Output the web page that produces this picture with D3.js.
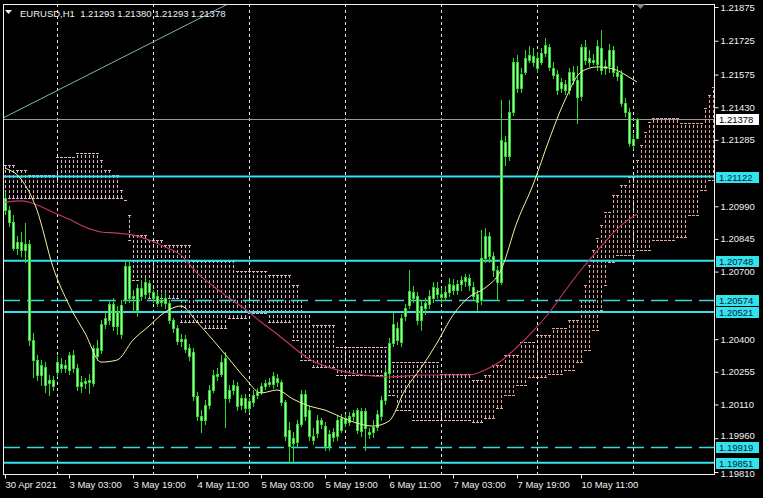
<!DOCTYPE html>
<html><head><meta charset="utf-8">
<script src="https://cdn.jsdelivr.net/npm/d3@7"></script>
<style>
html,body{margin:0;padding:0;background:#000;}
svg{display:block;}
</style></head><body>
<svg id="c" width="763" height="498"></svg>
<script>
// ---------------- DATA ----------------
const symbolTitle = "EURUSD,H1";
const headerOHLC = ["1.21293", "1.21380", "1.21293", "1.21378"];
const timeLabels = ["30 Apr 2021", "3 May 03:00", "3 May 19:00", "4 May 11:00", "5 May 03:00", "5 May 19:00", "6 May 11:00", "7 May 03:00", "7 May 19:00", "10 May 11:00"];
const timeLabelIdx = [0, 16, 32, 48, 64, 80, 96, 112, 128, 144];
const daySeparatorIdx = [13, 37, 61, 85, 109, 133, 157];
const priceTicks = [1.21875, 1.21725, 1.21575, 1.21430, 1.21285, 1.20990, 1.20845, 1.20700, 1.20400, 1.20255, 1.20110, 1.19960, 1.19810];

const openP = [1.21027,1.20973,1.20920,1.20805,1.20831,1.20796,1.20822,1.20396,1.20307,1.20241,
1.20276,1.20205,1.20218,1.20254,1.20289,1.20272,1.20263,1.20329,1.20272,1.20191,
1.20205,1.20209,1.20205,1.20361,1.20352,1.20467,1.20485,1.20556,1.20458,1.20422,
1.20574,1.20724,1.20583,1.20529,1.20627,1.20601,1.20649,1.20609,1.20592,1.20565,
1.20583,1.20561,1.20485,1.20449,1.20392,1.20400,1.20361,1.20343,1.20147,1.20059,
1.20041,1.20107,1.20174,1.20236,1.20245,1.20316,1.20139,1.20174,1.20191,1.20107,
1.20139,1.20094,1.20121,1.20152,1.20165,1.20191,1.20200,1.20200,1.20227,1.20209,
1.20121,1.19996,1.19939,1.19943,1.20023,1.20156,1.20085,1.19970,1.19983,1.20023,
1.20014,1.19926,1.19987,1.19970,1.19996,1.20050,1.20032,1.20059,1.19996,1.20081,
1.20005,1.19987,1.19987,1.20009,1.20059,1.20130,1.20250,1.20383,1.20449,1.20387,
1.20503,1.20552,1.20609,1.20592,1.20485,1.20538,1.20556,1.20583,1.20627,1.20601,
1.20587,1.20609,1.20640,1.20618,1.20645,1.20658,1.20671,1.20631,1.20601,1.20574,
1.20760,1.20857,1.20769,1.20707,1.20654,1.21275,1.21213,1.21409,1.21631,1.21515,
1.21587,1.21640,1.21658,1.21649,1.21631,1.21671,1.21697,1.21604,1.21578,1.21515,
1.21533,1.21506,1.21587,1.21551,1.21480,1.21697,1.21649,1.21631,1.21622,1.21693,
1.21604,1.21613,1.21684,1.21587,1.21578,1.21449,1.21409,1.21262,1.21293];
const highP = [1.21053,1.20991,1.20951,1.20857,1.20875,1.20916,1.20840,1.20427,1.20329,1.20307,
1.20298,1.20241,1.20236,1.20325,1.20316,1.20307,1.20343,1.20352,1.20289,1.20236,
1.20227,1.20245,1.20374,1.20396,1.20485,1.20520,1.20574,1.20583,1.20547,1.20574,
1.20751,1.20742,1.20618,1.20645,1.20662,1.20671,1.20662,1.20618,1.20609,1.20601,
1.20609,1.20574,1.20494,1.20462,1.20422,1.20418,1.20378,1.20361,1.20165,1.20085,
1.20130,1.20196,1.20263,1.20272,1.20329,1.20343,1.20196,1.20218,1.20209,1.20152,
1.20156,1.20139,1.20174,1.20183,1.20205,1.20218,1.20227,1.20254,1.20245,1.20218,
1.20130,1.20032,1.19987,1.20041,1.20174,1.20174,1.20103,1.20005,1.20063,1.20050,
1.20032,1.19996,1.20005,1.20059,1.20068,1.20068,1.20076,1.20085,1.20094,1.20094,
1.20094,1.20005,1.20041,1.20085,1.20147,1.20272,1.20405,1.20516,1.20476,1.20512,
1.20556,1.20707,1.20636,1.20609,1.20574,1.20583,1.20618,1.20654,1.20654,1.20627,
1.20636,1.20671,1.20667,1.20662,1.20680,1.20689,1.20689,1.20654,1.20618,1.20884,
1.20893,1.20875,1.20787,1.20724,1.21462,1.21302,1.21462,1.21649,1.21662,1.21604,
1.21684,1.21702,1.21693,1.21675,1.21693,1.21737,1.21711,1.21631,1.21595,1.21560,
1.21551,1.21604,1.21613,1.21613,1.21711,1.21728,1.21684,1.21666,1.21728,1.21773,
1.21640,1.21711,1.21702,1.21613,1.21595,1.21471,1.21426,1.21311,1.21380];
const lowP = [1.20955,1.20902,1.20796,1.20778,1.20769,1.20742,1.20374,1.20231,1.20218,1.20196,
1.20165,1.20152,1.20174,1.20236,1.20254,1.20254,1.20245,1.20254,1.20174,1.20165,
1.20183,1.20161,1.20191,1.20307,1.20338,1.20449,1.20467,1.20440,1.20422,1.20405,
1.20561,1.20565,1.20520,1.20503,1.20574,1.20583,1.20592,1.20565,1.20547,1.20547,
1.20538,1.20471,1.20431,1.20378,1.20369,1.20343,1.20307,1.20130,1.20041,1.19987,
1.20023,1.20094,1.20165,1.20218,1.20236,1.20009,1.20121,1.20156,1.20085,1.20090,
1.20076,1.20076,1.20103,1.20139,1.20156,1.20178,1.20191,1.20183,1.20191,1.20107,
1.19952,1.19850,1.19850,1.19926,1.20014,1.20041,1.19952,1.19934,1.19966,1.20005,
1.19908,1.19908,1.19948,1.19952,1.19987,1.20014,1.20018,1.20041,1.19983,1.19970,
1.19908,1.19961,1.19966,1.19996,1.20041,1.20112,1.20227,1.20369,1.20378,1.20369,
1.20485,1.20538,1.20565,1.20467,1.20440,1.20512,1.20538,1.20565,1.20583,1.20565,
1.20574,1.20592,1.20601,1.20601,1.20618,1.20636,1.20618,1.20574,1.20529,1.20556,
1.20742,1.20742,1.20680,1.20574,1.20645,1.21173,1.21195,1.21395,1.21497,1.21497,
1.21578,1.21631,1.21613,1.21587,1.21622,1.21658,1.21595,1.21560,1.21489,1.21497,
1.21489,1.21489,1.21533,1.21360,1.21462,1.21622,1.21613,1.21622,1.21595,1.21578,
1.21578,1.21587,1.21569,1.21551,1.21435,1.21391,1.21258,1.21249,1.21293];
const closeP = [1.20973,1.20920,1.20805,1.20831,1.20796,1.20822,1.20396,1.20307,1.20241,1.20285,
1.20196,1.20218,1.20191,1.20298,1.20272,1.20285,1.20329,1.20272,1.20191,1.20209,
1.20214,1.20218,1.20361,1.20325,1.20467,1.20494,1.20556,1.20458,1.20520,1.20552,
1.20724,1.20583,1.20592,1.20627,1.20592,1.20654,1.20609,1.20583,1.20561,1.20574,
1.20561,1.20485,1.20449,1.20392,1.20400,1.20356,1.20325,1.20147,1.20059,1.20041,
1.20107,1.20174,1.20241,1.20245,1.20298,1.20139,1.20174,1.20196,1.20103,1.20139,
1.20094,1.20125,1.20152,1.20165,1.20191,1.20205,1.20209,1.20236,1.20209,1.20121,
1.19970,1.19926,1.19961,1.20023,1.20156,1.20059,1.19970,1.19952,1.20041,1.20041,
1.19926,1.19979,1.19966,1.20041,1.20050,1.20027,1.20059,1.20072,1.20085,1.19992,
1.20081,1.19979,1.20009,1.20068,1.20130,1.20254,1.20383,1.20467,1.20396,1.20494,
1.20538,1.20614,1.20583,1.20485,1.20547,1.20561,1.20592,1.20631,1.20601,1.20587,
1.20609,1.20645,1.20618,1.20645,1.20662,1.20676,1.20640,1.20592,1.20565,1.20760,
1.20857,1.20769,1.20707,1.20654,1.21284,1.21213,1.21409,1.21631,1.21515,1.21578,
1.21649,1.21662,1.21631,1.21604,1.21671,1.21706,1.21609,1.21573,1.21506,1.21542,
1.21506,1.21587,1.21551,1.21475,1.21697,1.21640,1.21631,1.21640,1.21702,1.21595,
1.21613,1.21684,1.21587,1.21569,1.21449,1.21409,1.21271,1.21290,1.21378];

// moving averages, sampled at bar indices
const maIdx = [0,4,8,12,16,20,24,28,32,36,40,44,48,52,56,60,64,68,72,76,80,84,88,92,96,100,104,108,112,116,120,124,128,132,136,140,144,148,152,156,158];
const maFast = [1.21159,1.21111,1.20973,1.20720,1.20552,1.20427,1.20298,1.20307,1.20396,1.20458,
1.20520,1.20547,1.20476,1.20396,1.20312,1.20227,1.20161,1.20174,1.20134,1.20103,
1.20085,1.20054,1.20027,1.20014,1.20036,1.20174,1.20272,1.20383,1.20507,1.20587,
1.20627,1.20707,1.20920,1.21085,1.21284,1.21462,1.21586,1.21609,1.21600,1.21564,1.21542];
const maSlow = [1.21009,1.21014,1.20996,1.20964,1.20933,1.20898,1.20876,1.20871,1.20862,1.20840,
1.20809,1.20773,1.20694,1.20636,1.20583,1.20534,1.20476,1.20423,1.20365,1.20312,
1.20281,1.20259,1.20245,1.20236,1.20232,1.20236,1.20241,1.20241,1.20241,1.20241,
1.20263,1.20303,1.20365,1.20436,1.20516,1.20614,1.20707,1.20791,1.20871,1.20933,1.20955];

// Ichimoku cloud edges as steps (bar index where a value starts)
const kumoTopIdx = [0,3,6,13,18,24,25,27,29,30,31,32,36,40,47,58,66,72,74,75,77,83,96,109,117,120,122,125,129,133,137,141,144,145,146,147,148,149,150,152,154,156,158,159,160,161,162,169,175,176,177];
const kumoTopVal = [1.21173,1.21151,1.21129,1.21209,1.21226,1.21195,1.21151,1.21129,1.21062,1.21018,1.20951,1.20862,1.20840,1.20818,1.20747,1.20703,1.20685,1.20640,1.20574,1.20520,1.20462,1.20365,1.20298,1.20245,1.20218,1.20241,1.20285,1.20329,1.20387,1.20418,1.20449,1.20485,1.20574,1.20640,1.20729,1.20796,1.20849,1.20907,1.20964,1.21040,1.21085,1.21120,1.21195,1.21262,1.21320,1.21364,1.21382,1.21360,1.21426,1.21484,1.21520];
const kumoBotIdx = [0,30,31,32,34,36,44,50,56,61,66,72,74,77,83,96,98,102,117,120,123,125,128,131,136,140,143,145,147,149,150,151,153,158,162,168,171,174,176];
const kumoBotVal = [1.21027,1.21018,1.20840,1.20662,1.20618,1.20583,1.20476,1.20449,1.20494,1.20516,1.20476,1.20396,1.20307,1.20276,1.20241,1.20152,1.20085,1.20041,1.20032,1.20050,1.20094,1.20152,1.20196,1.20232,1.20245,1.20263,1.20298,1.20352,1.20440,1.20529,1.20640,1.20742,1.20774,1.20796,1.20840,1.20854,1.20951,1.21062,1.21107];
const kumoBullFrom = 120;
const kumoLastIdx = 177;

const levelsSolid = [1.21122, 1.20748, 1.20521, 1.19851];
const levelsDashed = [1.20574, 1.19919];
const bidPrice = 1.21378;
const trendIdx = [-0.5, 56.25];
const trendVal = [1.21382, 1.21893];

// ---------------- DRAW ----------------
const W = 763, H = 498;
const FONT = "'Liberation Sans', Arial, sans-serif";
const plot = {l: 3, t: 4, r: 714, b: 474};
const svg = d3.select("#c");
const x = d3.scaleLinear().domain([0, 177]).range([5, 713]);
const y = d3.scaleLinear().domain([1.19810, 1.21875]).range([472, 7]);
const R = v => Math.round(v);

svg.append("rect").attr("width", W).attr("height", H).attr("fill", "#000");
svg.append("defs").append("clipPath").attr("id", "clip")
  .append("rect").attr("x", plot.l).attr("y", plot.t)
  .attr("width", plot.r - plot.l).attr("height", plot.b - plot.t);
const g = svg.append("g").attr("clip-path", "url(#clip)");

function stepAt(idx, val, i) {
  let v = val[0];
  for (let k = 0; k < idx.length; k++) { if (idx[k] <= i) v = val[k]; else break; }
  return v;
}
const kumo = d3.range(0, kumoLastIdx + 1).map(i => ({
  i, top: stepAt(kumoTopIdx, kumoTopVal, i), bot: stepAt(kumoBotIdx, kumoBotVal, i), up: i >= kumoBullFrom
}));
const colDown = "#d6b4c4", colUp = "#e3a596";

// cloud hatch
const kg = g.append("g").attr("shape-rendering", "crispEdges");
kg.selectAll("line.h").data(kumo).join("line")
  .attr("x1", d => R(x(d.i)) + 0.5).attr("x2", d => R(x(d.i)) + 0.5)
  .attr("y1", d => R(y(d.top))).attr("y2", d => R(y(d.bot)))
  .attr("stroke", d => d.up ? colUp : colDown).attr("stroke-width", 1)
  .attr("stroke-dasharray", "3,2")
  .attr("stroke-dashoffset", d => R(y(d.top)) % 5);
kg.selectAll("rect.t").data(kumo).join("rect")
  .attr("x", d => R(x(d.i)) - 1).attr("y", d => R(y(d.top)))
  .attr("width", 3).attr("height", 1).attr("fill", d => d.up ? colUp : colDown);
kg.selectAll("rect.b").data(kumo).join("rect")
  .attr("x", d => R(x(d.i)) - 1).attr("y", d => R(y(d.bot)))
  .attr("width", 3).attr("height", 1).attr("fill", d => d.up ? colUp : colDown);

// day separators
g.selectAll("line.sep").data(daySeparatorIdx).join("line")
  .attr("x1", d => R(x(d)) + 0.5).attr("x2", d => R(x(d)) + 0.5)
  .attr("y1", plot.t).attr("y2", plot.b)
  .attr("stroke", "#e8e8e8").attr("stroke-width", 1).attr("stroke-dasharray", "3,3")
  .attr("shape-rendering", "crispEdges");

// horizontal levels
g.selectAll("line.ls").data(levelsSolid).join("line")
  .attr("x1", plot.l).attr("x2", plot.r).attr("y1", d => y(d)).attr("y2", d => y(d))
  .attr("stroke", "#35e3ec").attr("stroke-width", 2);
g.selectAll("line.ld").data(levelsDashed).join("line")
  .attr("x1", plot.l).attr("x2", plot.r).attr("y1", d => R(y(d)) + 0.5).attr("y2", d => R(y(d)) + 0.5)
  .attr("stroke", "#35d8e0").attr("stroke-width", 1.3).attr("stroke-dasharray", "17,7");
g.append("line").attr("x1", plot.l).attr("x2", plot.r)
  .attr("y1", R(y(bidPrice)) + 0.5).attr("y2", R(y(bidPrice)) + 0.5)
  .attr("stroke", "#9a9a9a").attr("stroke-width", 1);

// trend line
g.append("line")
  .attr("x1", x(trendIdx[0])).attr("y1", y(trendVal[0]))
  .attr("x2", x(trendIdx[1])).attr("y2", y(trendVal[1]))
  .attr("stroke", "#7fb2bc").attr("stroke-width", 1);

// candles
const bars = openP.map((o, i) => ({i, o, h: highP[i], l: lowP[i], c: closeP[i]}));
const cg = g.append("g").attr("shape-rendering", "crispEdges");
cg.selectAll("line.w").data(bars).join("line")
  .attr("x1", d => R(x(d.i)) + 0.5).attr("x2", d => R(x(d.i)) + 0.5)
  .attr("y1", d => R(y(d.h))).attr("y2", d => R(y(d.l)) + 1)
  .attr("stroke", "#2fd82f").attr("stroke-width", 1);
cg.selectAll("rect.body").data(bars).join("rect")
  .attr("x", d => R(x(d.i)) - 0.5)
  .attr("y", d => R(y(Math.max(d.o, d.c))) + 0.5)
  .attr("width", 2)
  .attr("height", d => Math.max(0, R(y(Math.min(d.o, d.c))) - R(y(Math.max(d.o, d.c)))))
  .attr("fill", "#a6f7a6").attr("stroke", "#2fd82f").attr("stroke-width", 1);

// moving averages
const maLine = vals => d3.line().x((d, k) => x(maIdx[k])).y(d => y(d)).curve(d3.curveMonotoneX)(vals);
g.append("path").attr("d", maLine(maSlow)).attr("fill", "none").attr("stroke", "#c8356a").attr("stroke-width", 1.1);
g.append("path").attr("d", maLine(maFast)).attr("fill", "none").attr("stroke", "#f2f29e").attr("stroke-width", 1);

// frame
svg.append("rect").attr("x", plot.l + 0.5).attr("y", plot.t + 0.5)
  .attr("width", plot.r - plot.l).attr("height", plot.b - plot.t)
  .attr("fill", "none").attr("stroke", "#f0f0f0").attr("stroke-width", 1)
  .attr("shape-rendering", "crispEdges");

// right price axis
const ya = svg.append("g").attr("transform", `translate(${plot.r + 0.5},0)`)
  .call(d3.axisRight(y).tickValues(priceTicks).tickSize(4).tickFormat(d3.format(".5f")));
ya.select(".domain").remove();
ya.selectAll(".tick line").attr("stroke", "#f0f0f0");
ya.selectAll(".tick text").attr("fill", "#f0f0f0").attr("font-size", 9.5)
  .attr("font-family", FONT).attr("x", 6)
  .attr("dy", d => d === 1.19960 ? "0.05em" : (d === 1.19810 ? "0.5em" : "0.32em"));

// bottom time axis
const xa = svg.append("g").attr("transform", `translate(0,${plot.b + 0.5})`)
  .call(d3.axisBottom(x).tickValues(timeLabelIdx).tickSize(4).tickFormat((d, k) => timeLabels[k]));
xa.select(".domain").remove();
xa.selectAll(".tick line").attr("stroke", "#f0f0f0");
xa.selectAll(".tick text").attr("fill", "#f0f0f0").attr("font-size", 9.5)
  .attr("font-family", FONT).attr("text-anchor", "start");

// level labels on the price axis
const lab = svg.append("g");
function priceBox(v, bg, fg) {
  const yy = R(y(v));
  lab.append("rect").attr("x", 716).attr("y", yy - 5).attr("width", 43).attr("height", 11).attr("fill", bg);
  lab.append("text").attr("x", 719).attr("y", yy + 3.5).attr("fill", fg)
    .attr("font-size", 9.5).attr("font-family", FONT).text(d3.format(".5f")(v));
}
levelsSolid.concat(levelsDashed).forEach(v => priceBox(v, "#33e2ea", "#06233a"));
priceBox(bidPrice, "#ffffff", "#000000");

// header
svg.append("path").attr("d", "M5,10 L12,10 L8.5,14 Z").attr("fill", "#f0f0f0");
svg.append("text").attr("x", 20).attr("y", 17).attr("fill", "#f0f0f0")
  .attr("font-size", 9.5).attr("font-family", FONT).attr("xml:space", "preserve")
  .style("white-space", "pre")
  .text(symbolTitle + "  " + headerOHLC.join(" "));

// chart shift marker
svg.append("path").attr("d", "M636,4 L645,4 L640.5,9 Z").attr("fill", "#8a8a8a");
</script>
</body></html>
